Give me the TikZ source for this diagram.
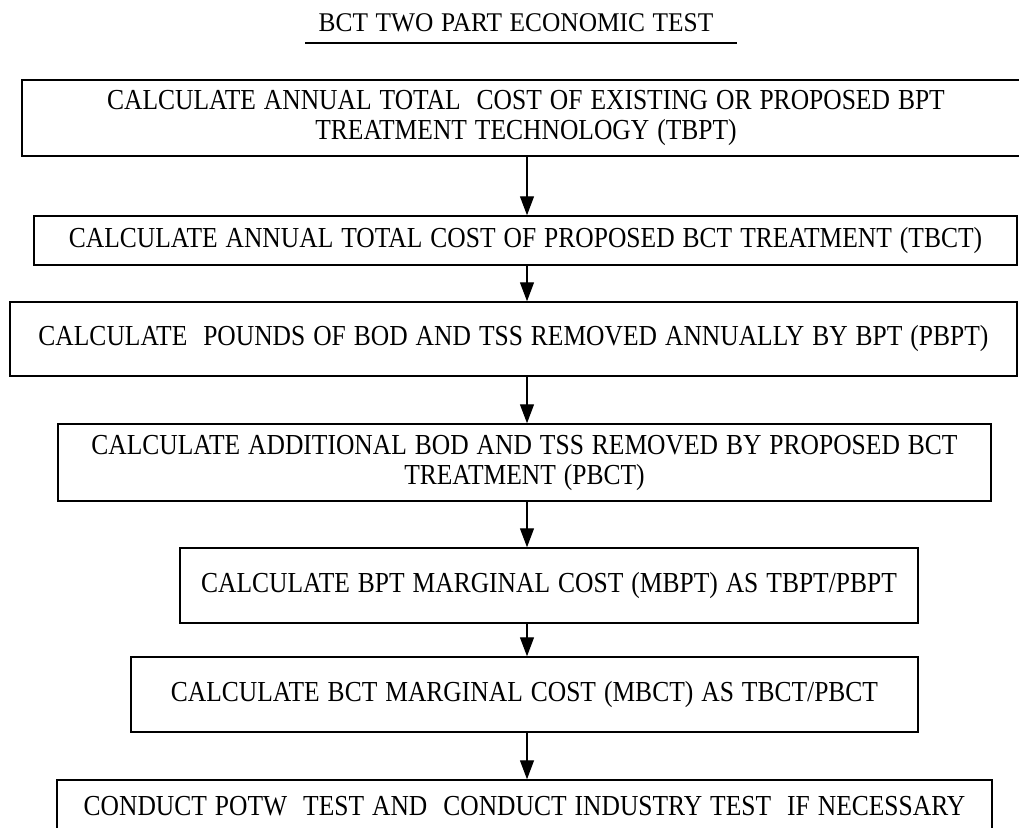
\documentclass[tikz,border=0pt]{standalone}
\usepackage{fontspec}
\setmainfont{Liberation Serif}[FakeStretch=0.88, WordSpace=1.25]
\newfontfamily\headfont{Liberation Serif}[FakeStretch=0.94, WordSpace=1.2]
\usetikzlibrary{arrows.meta}
\begin{document}
\begin{tikzpicture}[x=1pt,y=-1pt,
  stepbox/.style={draw, line width=1.5pt, rectangle, inner sep=0pt, align=center,
    font=\fontsize{29}{30}\selectfont},
  flow/.style={line width=1.3pt, -{Triangle[width=14pt,length=19pt]}},
  heading/.style={font=\headfont\fontsize{27}{30}\selectfont, inner sep=0pt}]
\useasboundingbox (0,0) rectangle (1019,827);

% heading with its underline
\node[heading] (title) at (516,23) {BCT TWO PART ECONOMIC TEST};
\coordinate (ulA) at (305,43);
\coordinate (ulB) at (737,43);
\draw[line width=1.6pt] (ulA) -- (ulB);

% the seven steps
\node[stepbox, minimum width=1008pt, minimum height=76pt] (b1) at (526,118)
  {CALCULATE ANNUAL TOTAL~ COST OF EXISTING OR PROPOSED BPT\\TREATMENT TECHNOLOGY (TBPT)};
\node[stepbox, minimum width=983pt, minimum height=49pt] (b2) at (525.5,240.5)
  {CALCULATE ANNUAL TOTAL COST OF PROPOSED BCT TREATMENT (TBCT)};
\node[stepbox, minimum width=1007pt, minimum height=74pt] (b3) at (513.5,339)
  {CALCULATE~ POUNDS OF BOD AND TSS REMOVED ANNUALLY BY BPT (PBPT)};
\node[stepbox, minimum width=933pt, minimum height=77pt] (b4) at (524.5,462.5)
  {CALCULATE ADDITIONAL BOD AND TSS REMOVED BY PROPOSED BCT\\TREATMENT (PBCT)};
\node[stepbox, minimum width=738pt, minimum height=75pt] (b5) at (549,585.5)
  {CALCULATE BPT MARGINAL COST (MBPT) AS TBPT/PBPT};
\node[stepbox, minimum width=787pt, minimum height=75pt] (b6) at (524.5,694.5)
  {CALCULATE BCT MARGINAL COST (MBCT) AS TBCT/PBCT};
\node[stepbox, minimum width=935pt, minimum height=52pt] (b7) at (524.5,806)
  {CONDUCT POTW~ TEST AND~ CONDUCT INDUSTRY TEST~ IF NECESSARY};

% connectors on one vertical axis
\coordinate (axis) at (527,0);
\draw[flow] (b1.south -| axis) -- (b2.north -| axis);
\draw[flow] (b2.south -| axis) -- (b3.north -| axis);
\draw[flow] (b3.south -| axis) -- (b4.north -| axis);
\draw[flow] (b4.south -| axis) -- (b5.north -| axis);
\draw[flow] (b5.south -| axis) -- (b6.north -| axis);
\draw[flow] (b6.south -| axis) -- (b7.north -| axis);
\end{tikzpicture}
\end{document}
